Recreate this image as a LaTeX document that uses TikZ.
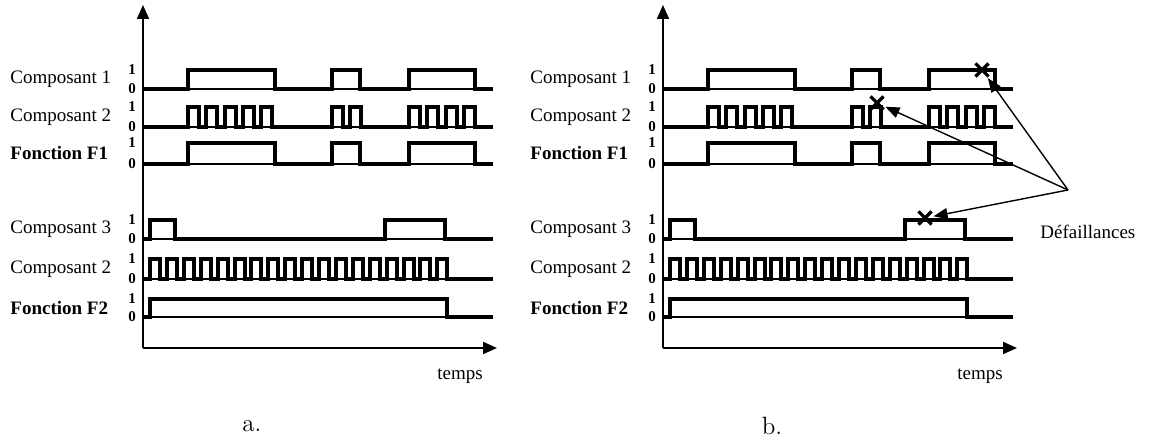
\documentclass[tikz,border=0pt]{standalone}
\usepackage{fontspec}
\newfontfamily\timesfont{Liberation Serif}
\usetikzlibrary{arrows.meta,shapes.misc}

\tikzset{
  sig/.style={line width=2pt},
  zero/.style={line width=0.6pt},
  axe/.style={line width=1pt,-{Triangle[length=7pt,width=6pt]}},
  lvl/.style={font=\timesfont\fontsize{7.5}{8}\selectfont\bfseries,inner sep=0pt},
  nom/.style={font=\timesfont\fontsize{9.5}{10}\selectfont,anchor=west,inner sep=0pt},
  panne/.style={draw,cross out,line width=1.6pt,minimum size=5pt,inner sep=0pt},
  fleche/.style={line width=0.7pt,-{Triangle[length=7pt,width=5.5pt]}},
}

\begin{document}
\begin{tikzpicture}[x=0.5pt,y=-0.5pt]
        \useasboundingbox (0,0) rectangle (1151,437);
        \foreach \p/\dx in {a/0,b/520} {
                \begin{scope}[shift={(\dx,0)}]
                        % axes
                        \coordinate (o\p) at (143,348);
                        \draw[axe] (o\p) -- ++(0,-343);
                        \draw[axe] (o\p) -- ++(354,0);
                        \node[nom] (t\p) at (437,376) {temps};
                        \node[font=\fontsize{12.5}{14}\selectfont] (lbl\p) at (252,426) {\p.};
                        % rows
                        \foreach \r/\lo/\hi/\txt in {1/89/70/Composant 1,2/127/107/Composant 2,3/164/143/\textbf{Fonction F1},
                                4/239/220/Composant 3,5/279/259/Composant 2,6/317/299/\textbf{Fonction F2}} {
                                \draw[zero] (143,\lo) -- (493,\lo);
                                \node[lvl] (un\p\r) at (132,\hi) {1};
                                \node[lvl] (zr\p\r) at (132,\lo) {0};
                                \node[nom] (n\p\r) at (10,{(\lo+\hi)/2}) {\txt};
                        }
                        % signals
                        \draw[sig] (143,89) \foreach \u/\d in {188/275,332/360,409/475} {
                                -- (\u,89) -- (\u,70) -- (\d,70) -- (\d,89)} -- (493,89);
                        \draw[sig] (143,127) \foreach \s/\n in {188/5,332/2,409/4} {
                                \foreach \k in {1,...,\n} {
                                        -- ({\s+(\k-1)*18.3},127) -- ++(0,-20) -- ++(11,0) -- ++(0,20)}} -- (493,127);
                        \draw[sig] (143,164) \foreach \u/\d in {188/275,332/360,409/475} {
                                -- (\u,164) -- (\u,143) -- (\d,143) -- (\d,164)} -- (493,164);
                        \draw[sig] (143,239) \foreach \u/\d in {150/175,385/445} {
                                -- (\u,239) -- (\u,220) -- (\d,220) -- (\d,239)} -- (493,239);
                        \draw[sig] (143,279) \foreach \k in {0,...,17} {
                                -- ({150+\k*16.9},279) -- ++(0,-20) -- ++(10,0) -- ++(0,20)} -- (493,279);
                        \draw[sig] (143,317) -- (150,317) -- (150,299) -- (447,299) -- (447,317) -- (493,317);
                \end{scope}
        }
        % defaillances
        \node[panne] (x1) at (982,70) {};
        \node[panne] (x2) at (877,103) {};
        \node[panne] (x3) at (925,218) {};
        \node[nom] (def) at (1040,232) {Défaillances};
        \coordinate (conv) at (1068,190);
        \foreach \i in {1,2,3}
                \draw[fleche,shorten >=1pt] (conv) -- (x\i);
\end{tikzpicture}
\end{document}
